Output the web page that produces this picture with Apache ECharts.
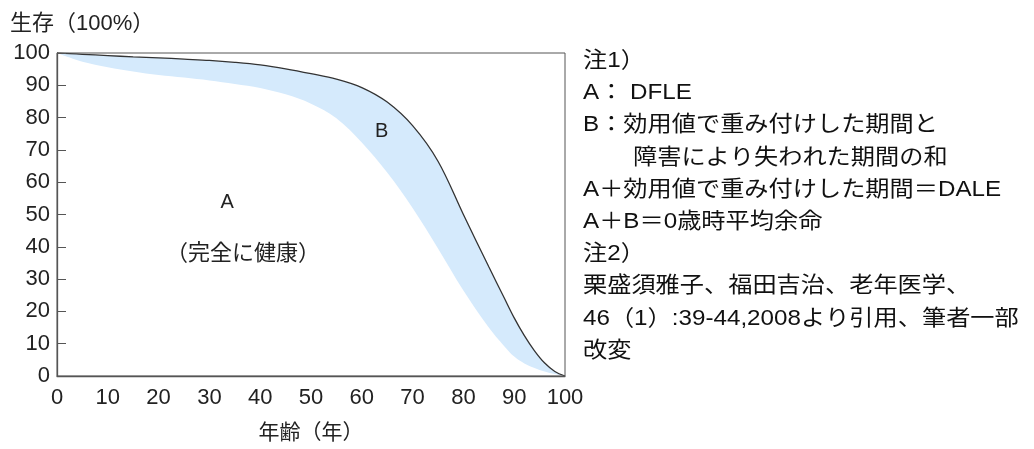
<!DOCTYPE html>
<html><head><meta charset="utf-8">
<script src="https://cdn.jsdelivr.net/npm/echarts@6/dist/echarts.min.js"></script>
<style>html,body{margin:0;padding:0;background:#fff}#c{width:1034px;height:449px}</style>
</head><body><div id="c"></div>
<script>
// 年齢（年）
const ages  = [0, 2.5, 5, 10, 15, 20, 25, 30, 35, 40, 45, 50, 55, 60, 65, 70, 75, 80, 85, 88, 90, 92, 94, 96, 98, 100];
// 生存曲線（A+B の上端、黒線）
const upper = [100, 99.8, 99.6, 99.2, 98.8, 98.5, 98.1, 97.7, 97.1, 96.3, 95.1, 93.6, 91.9, 89.3, 84.8, 77.5, 66.5, 50, 33.8, 24.3, 18, 12.5, 7.8, 4, 1.4, 0];
// DFLE 曲線（A の上端、青い帯の下端）
const lower = [100, 98.6, 97.3, 95.6, 94.3, 93.2, 92.4, 91.5, 90.4, 89.2, 87.2, 84.3, 79.8, 72.3, 63, 52, 39.5, 26.5, 15, 9.3, 6, 3.9, 2.5, 1.4, 0.6, 0];
const xTicks = [0, 10, 20, 30, 40, 50, 60, 70, 80, 90, 100];
const yTicks = [0, 10, 20, 30, 40, 50, 60, 70, 80, 90, 100];
const yName = '生存（100%）';
const xName = '年齢（年）';
const areaLabels = [
  {name: 'A', age: 33.5, value: 53.8, size: 20},
  {name: '（完全に健康）', age: 36.6, value: 37.8, size: 22},
  {name: 'B', age: 63.9, value: 75.7, size: 20}
];
const notes = [
  {text: '注1）', indent: 0},
  {text: 'A： DFLE', indent: 0},
  {text: 'B：効用値で重み付けした期間と', indent: 0},
  {text: '障害により失われた期間の和', indent: 50},
  {text: 'A＋効用値で重み付けした期間＝DALE', indent: 0},
  {text: 'A＋B＝0歳時平均余命', indent: 0},
  {text: '注2）', indent: 0},
  {text: '栗盛須雅子、福田吉治、老年医学、', indent: 0},
  {text: '46（1）:39-44,2008より引用、筆者一部', indent: 0},
  {text: '改変', indent: 0}
];

const FONT = '"Liberation Sans", Arial, "Noto Sans CJK JP", sans-serif';
const chart = echarts.init(document.getElementById('c'), null, {renderer: 'canvas'});

const option = {
  backgroundColor: '#fff',
  animation: false,
  title: {
    text: yName, left: 5, top: 8,
    textStyle: {fontFamily: FONT, fontSize: 22, fontWeight: 'normal', color: '#222'}
  },
  grid: {left: 57, right: 469, top: 53, bottom: 71, show: true, borderColor: '#555', borderWidth: 1, z: 10},
  xAxis: {
    type: 'value', min: 0, max: 100, interval: 10, z: 10,
    name: xName, nameLocation: 'middle', nameGap: 47,
    nameTextStyle: {fontFamily: FONT, fontSize: 21, color: '#222'},
    axisLine: {lineStyle: {color: '#555', width: 1.3}},
    axisTick: {show: false},
    splitLine: {show: false},
    axisLabel: {fontFamily: FONT, fontSize: 22, color: '#222', margin: 11,
      formatter: v => xTicks.includes(v) ? String(v) : ''}
  },
  yAxis: {
    type: 'value', min: 0, max: 100, interval: 10, z: 10,
    axisLine: {show: true, lineStyle: {color: '#555', width: 1.3}},
    axisTick: {show: true, inside: true, length: 9, lineStyle: {color: '#555'}},
    splitLine: {show: false},
    axisLabel: {fontFamily: FONT, fontSize: 22, color: '#222', margin: 7,
      formatter: v => yTicks.includes(v) ? String(v) : ''}
  },
  series: [
    {
      name: 'B', type: 'line', smooth: 0.35, symbol: 'none', z: 1, silent: true,
      lineStyle: {opacity: 0},
      areaStyle: {color: '#d5eafc', opacity: 1},
      data: ages.map((a, i) => [a, upper[i]])
    },
    {
      name: 'A (DFLE)', type: 'line', smooth: 0.35, symbol: 'none', z: 2, silent: true,
      lineStyle: {opacity: 0},
      areaStyle: {color: '#ffffff', opacity: 1},
      data: ages.map((a, i) => [a, lower[i]])
    },
    {
      name: '生存', type: 'line', smooth: 0.35, symbol: 'none', z: 5,
      lineStyle: {color: '#333', width: 1.3},
      data: ages.map((a, i) => [a, upper[i]]),
      markPoint: {
        symbol: 'circle', symbolSize: 0, silent: true,
        label: {show: true, position: 'inside', formatter: p => p.name,
          fontFamily: FONT, color: '#222'},
        data: areaLabels.map(d => ({name: d.name, coord: [d.age, d.value], label: {fontSize: d.size}}))
      }
    }
  ],
  graphic: notes.map((n, i) => ({
    type: 'text', left: 583 + n.indent, top: 50 + i * 32.2, scaleX: 1.1,
    style: {text: n.text, font: '22px ' + FONT, fill: '#111'}
  }))
};
chart.setOption(option);
</script>
</body></html>
